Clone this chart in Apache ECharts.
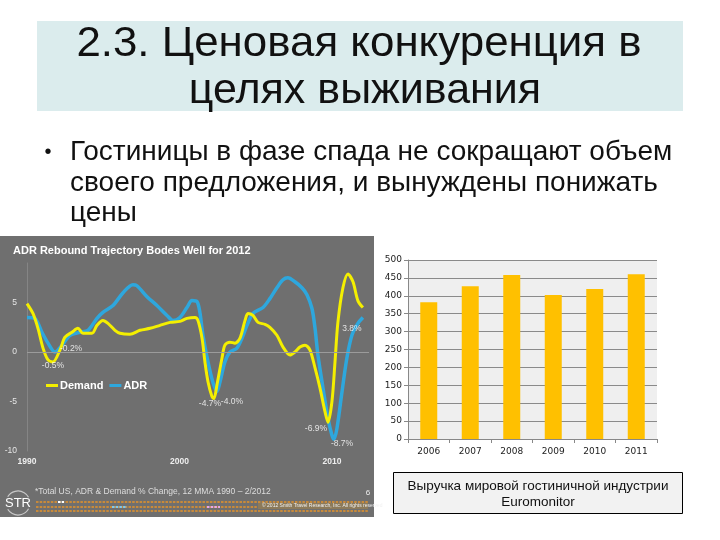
<!DOCTYPE html>
<html>
<head>
<meta charset="utf-8">
<script src="https://cdn.jsdelivr.net/npm/echarts@6/dist/echarts.min.js"></script>
<style>
html,body{margin:0;padding:0;background:#fff;}
#chart{width:720px;height:540px;}
</style>
</head>
<body>
<div id="chart"></div>
<script>
// ---- Data ----
var titleLines = ['2.3. Ценовая конкуренция в', 'целях выживания'];
var bulletLines = ['Гостиницы в фазе спада не сокращают объем', 'своего предложения, и вынуждены понижать', 'цены'];

var lineChartTitle = 'ADR Rebound Trajectory Bodes Well for 2012';
var lineFootnote = '*Total US, ADR & Demand % Change, 12 MMA 1990 \u2013 2/2012';

var demandYears = [1990.0,1990.39,1990.72,1991.05,1991.38,1991.70,1992.16,1992.49,1992.95,1993.34,1993.67,1994.26,1994.59,1994.98,1995.31,1995.77,1996.10,1996.75,1997.41,1998.07,1998.72,1999.38,2000.03,2000.49,2001.02,2001.21,2001.48,2001.67,2001.87,2002.13,2002.26,2002.46,2002.79,2002.98,2003.31,2003.64,2003.97,2004.30,2004.49,2004.82,2005.15,2005.61,2005.93,2006.39,2006.79,2007.25,2007.57,2007.90,2008.23,2008.56,2008.89,2009.21,2009.54,2009.74,2010.00,2010.20,2010.39,2010.72,2011.05,2011.38,2011.70,2012.03];
var demandValues = [4.9,3.9,2.4,0.4,-0.8,-1.0,0.2,1.5,2.0,2.4,1.9,1.9,2.7,3.2,2.9,2.2,1.9,1.8,2.2,2.4,2.7,3.0,3.1,3.4,3.5,3.2,1.4,-1.0,-3.0,-4.5,-4.7,-3.3,-0.6,0.7,1.0,0.9,1.4,3.2,3.9,3.7,3.0,2.8,2.5,1.7,0.5,-0.3,0.0,0.5,0.7,0.2,-1.6,-3.6,-6.0,-7.1,-5.0,-1.0,3.0,6.5,7.9,7.1,5.2,4.5];

var adrYears = [1990.0,1990.52,1990.98,1991.38,1991.84,1992.30,1992.82,1993.48,1994.0,1994.59,1994.98,1995.64,1996.30,1996.95,1997.21,1997.87,1998.52,1999.18,1999.57,2000.03,2000.49,2000.82,2001.15,2001.34,2001.54,2001.87,2002.20,2002.46,2002.66,2002.98,2003.31,2003.77,2004.10,2004.43,2004.82,2005.48,2005.93,2006.39,2006.79,2007.11,2007.57,2008.03,2008.36,2008.69,2008.89,2009.08,2009.41,2009.74,2010.0,2010.13,2010.33,2010.66,2010.98,2011.31,2011.70,2012.03];
var adrValues = [3.5,3.4,2.0,0.9,0.0,0.7,1.7,2.0,2.2,3.4,4.0,4.7,6.0,6.8,6.7,5.6,4.7,3.7,3.2,3.5,4.5,5.2,5.1,4.0,1.7,-1.0,-3.1,-4.0,-3.0,-1.0,0.0,0.4,1.4,2.7,3.9,4.5,5.4,6.5,7.3,7.5,7.1,6.5,5.8,4.4,2.4,-0.3,-3.6,-6.7,-8.4,-8.8,-7.7,-4.0,-0.6,1.7,2.9,3.5];

var noteYears  = [1992.89, 1991.70, 2002.0, 2003.44, 2008.95, 2010.66, 2011.31];
var noteValues = [0.3, -1.4, -5.2, -5.05, -7.7, -9.3, 2.4];
var noteTexts  = ['-0.2%', '-0.5%', '-4.7%', '-4.0%', '-6.9%', '-8.7%', '3.8%'];

var barYears  = ['2006', '2007', '2008', '2009', '2010', '2011'];
var barValues = [382, 427, 458, 402, 419, 460];
var captionLines = ['Выручка мировой гостиничной индустрии', 'Euromonitor'];

// ---- Build ----
function zip(xs, ys) { return xs.map(function (x, i) { return [x, ys[i]]; }); }
var notes = noteYears.map(function (x, i) { return [x, noteValues[i], noteTexts[i]]; });

var SANS = '"Liberation Sans", Arial, sans-serif';
var chart = echarts.init(document.getElementById('chart'), null, { renderer: 'canvas' });

function bullet(text, y) {
  return { type: 'text', z: 1, x: 70, y: y,
    style: { text: text, x: 0, y: 0, fill: '#111', font: '28px ' + SANS, textAlign: 'left', textVerticalAlign: 'middle' } };
}

var graphics = [
  { type: 'rect', z: 0, shape: { x: 37, y: 21, width: 646, height: 90 }, style: { fill: '#dbeced' } },
  { type: 'text', z: 1, x: 359, y: 44, scaleX: 1.02, scaleY: 1.0, style: { text: titleLines[0], x: 0, y: 0, fill: '#111', font: '43px ' + SANS, textAlign: 'center', textVerticalAlign: 'middle' } },
  { type: 'text', z: 1, x: 365, y: 91, scaleX: 1.0, scaleY: 1.0, style: { text: titleLines[1], x: 0, y: 0, fill: '#111', font: '43px ' + SANS, textAlign: 'center', textVerticalAlign: 'middle' } },
  { type: 'text', z: 1, style: { text: '\u2022', x: 48, y: 152, fill: '#111', font: '20px ' + SANS, textAlign: 'center', textVerticalAlign: 'middle' } },
  bullet(bulletLines[0], 152),
  bullet(bulletLines[1], 183),
  bullet(bulletLines[2], 213.5),
  // left grey panel
  { type: 'rect', z: 0, shape: { x: 0, y: 236, width: 374, height: 281 }, style: { fill: '#6f6f6f' } },
  { type: 'text', z: 1, style: { text: lineChartTitle, x: 13, y: 251, fill: '#ffffff', font: 'bold 11px ' + SANS, textAlign: 'left', textVerticalAlign: 'middle' } },
  { type: 'text', z: 1, style: { text: lineFootnote, x: 35, y: 492, fill: '#dddddd', font: '8.5px ' + SANS, textAlign: 'left', textVerticalAlign: 'middle' } },
  { type: 'text', z: 1, style: { text: '6', x: 368, y: 493, fill: '#eeeeee', font: '8px ' + SANS, textAlign: 'center', textVerticalAlign: 'middle' } },
  { type: 'arc', z: 1, shape: { cx: 18, cy: 503, r: 12, startAngle: -2.6, endAngle: -0.5 }, style: { stroke: '#c8c8c8', lineWidth: 1.2, fill: null } },
  { type: 'arc', z: 1, shape: { cx: 18, cy: 503, r: 12, startAngle: 0.5, endAngle: 2.6 }, style: { stroke: '#c8c8c8', lineWidth: 1.2, fill: null } },
  { type: 'text', z: 1, style: { text: 'STR', x: 18, y: 503, fill: '#ffffff', font: '13px ' + SANS, textAlign: 'center', textVerticalAlign: 'middle' } },
  { type: 'line', z: 1, shape: { x1: 36, y1: 502, x2: 368, y2: 502 }, style: { stroke: '#c88a3a', lineWidth: 2, lineDash: [2.5, 1.2] } },
  { type: 'line', z: 1, shape: { x1: 36, y1: 507, x2: 368, y2: 507 }, style: { stroke: '#c88a3a', lineWidth: 2, lineDash: [2.5, 1.2] } },
  { type: 'line', z: 1, shape: { x1: 36, y1: 511, x2: 368, y2: 511 }, style: { stroke: '#c88a3a', lineWidth: 2, lineDash: [2.5, 1.2] } },
  { type: 'line', z: 2, shape: { x1: 112, y1: 507, x2: 127, y2: 507 }, style: { stroke: '#7ec8ee', lineWidth: 2, lineDash: [2.5, 1.2] } },
  { type: 'line', z: 2, shape: { x1: 207, y1: 507, x2: 220, y2: 507 }, style: { stroke: '#e7a6e8', lineWidth: 2, lineDash: [2.5, 1.2] } },
  { type: 'line', z: 2, shape: { x1: 58, y1: 502, x2: 64, y2: 502 }, style: { stroke: '#ffffff', lineWidth: 2, lineDash: [2.5, 1.2] } },
  { type: 'rect', z: 2, shape: { x: 258, y: 503, width: 110, height: 6 }, style: { fill: '#8c7a5a' } },
  { type: 'text', z: 3, style: { text: '\u00a9 2012 Smith Travel Research, Inc. All rights reserved', x: 262, y: 506, fill: '#f0f0f0', font: '5px ' + SANS, textAlign: 'left', textVerticalAlign: 'middle' } },
  // caption box
  { type: 'rect', z: 1, shape: { x: 393.5, y: 472.5, width: 289, height: 41 }, style: { fill: '#f2f2f2', stroke: '#000', lineWidth: 1 } },
  { type: 'text', z: 2, style: { text: captionLines[0], x: 538, y: 486, fill: '#111', font: '13.5px ' + SANS, textAlign: 'center', textVerticalAlign: 'middle' } },
  { type: 'text', z: 2, style: { text: captionLines[1], x: 538, y: 502, fill: '#111', font: '13.5px ' + SANS, textAlign: 'center', textVerticalAlign: 'middle' } }
];

var option = {
  animation: false,
  graphic: graphics,
  legend: {
    data: ['Demand', 'ADR'], left: 46, top: 380, padding: 0,
    icon: 'rect', itemWidth: 12, itemHeight: 3, itemGap: 6,
    textStyle: { color: '#ffffff', fontWeight: 'bold', fontSize: 11, fontFamily: SANS, padding: [0, 0, 0, -3] }
  },
  grid: [
    { left: 27, top: 263, width: 342, height: 188 },
    { left: 408, top: 260, width: 249, height: 179, show: true, backgroundColor: '#efefef', borderWidth: 0 }
  ],
  xAxis: [
    { type: 'value', gridIndex: 0, min: 1990, max: 2012.43, interval: 10,
      axisLine: { show: false }, axisTick: { show: false }, splitLine: { show: false },
      axisLabel: { color: '#eeeeee', fontWeight: 'bold', fontSize: 8.5, fontFamily: SANS, margin: 6, showMaxLabel: false,
        formatter: function (v) { return String(v); } } },
    { type: 'category', gridIndex: 1, data: barYears,
      axisLine: { lineStyle: { color: '#888' } },
      axisTick: { show: true, length: 4, lineStyle: { color: '#888' } },
      axisLabel: { color: '#222', fontSize: 9, fontFamily: '"DejaVu Sans", sans-serif', margin: 8 } }
  ],
  yAxis: [
    { type: 'value', gridIndex: 0, min: -10, max: 9, interval: 5,
      axisLine: { show: true, lineStyle: { color: '#858585', width: 1 } }, axisTick: { show: false }, splitLine: { show: false },
      axisLabel: { color: '#e6e6e6', fontSize: 8.5, fontFamily: SANS, margin: 10, showMaxLabel: false } },
    { type: 'value', gridIndex: 1, min: 0, max: 500, interval: 50,
      axisLine: { show: true, lineStyle: { color: '#888' } },
      axisTick: { show: true, length: 4, lineStyle: { color: '#888' } },
      splitLine: { show: true, lineStyle: { color: '#8a8a8a', width: 1 } },
      axisLabel: { color: '#222', fontSize: 9, fontFamily: '"DejaVu Sans", sans-serif', margin: 6 } }
  ],
  series: [
    { name: 'ADR', type: 'line', xAxisIndex: 0, yAxisIndex: 0, data: zip(adrYears, adrValues),
      smooth: 0.3, showSymbol: false, symbol: 'none', lineStyle: { color: '#2ea7dd', width: 3.5 }, itemStyle: { color: '#2ea7dd' },
      markLine: { silent: true, symbol: 'none', label: { show: false }, lineStyle: { color: '#9b9b9b', width: 1, type: 'solid' }, data: [{ yAxis: 0 }] }, z: 2 },
    { name: 'Demand', type: 'line', xAxisIndex: 0, yAxisIndex: 0, data: zip(demandYears, demandValues),
      smooth: 0.3, showSymbol: false, symbol: 'none', lineStyle: { color: '#f4ef00', width: 3 }, itemStyle: { color: '#f4ef00' }, z: 3 },
    { name: 'notes', type: 'scatter', xAxisIndex: 0, yAxisIndex: 0, data: notes, symbolSize: 0, z: 5,
      label: { show: true, position: 'inside', color: '#ffffff', fontSize: 8.5, fontFamily: SANS,
        formatter: function (p) { return p.value[2]; } } },
    { name: 'Revenue', type: 'bar', xAxisIndex: 1, yAxisIndex: 1, data: barValues, barWidth: 17,
      itemStyle: { color: '#ffc000' } }
  ]
};
chart.setOption(option);
</script>
</body>
</html>
